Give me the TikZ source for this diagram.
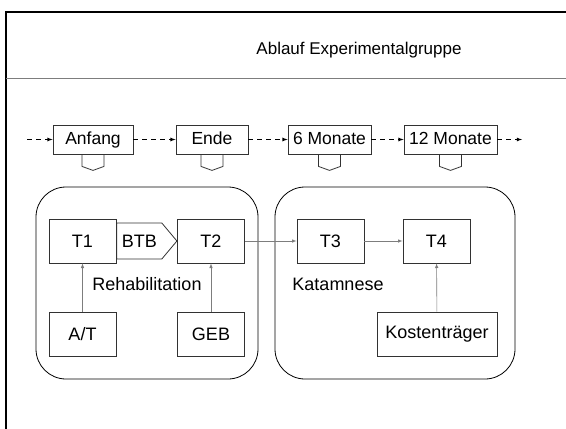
\documentclass[tikz,border=0pt]{standalone}
\usepackage{fontspec}
\setmainfont{Liberation Sans}
\usetikzlibrary{shapes,arrows,positioning,fit}
\usepackage{xcolor}
\definecolor{linegray}{RGB}{125,125,125}
\definecolor{boxgray}{RGB}{50,50,50}

\tikzset{
    zeitbox/.style={draw=boxgray, rectangle, line width=0.8pt, minimum height=29pt, inner xsep=1pt, text height=12.5pt, text depth=3.5pt, font=\fontsize{17.5}{17.5}\selectfont},
    stufe/.style={draw=boxgray, rectangle, line width=0.8pt, minimum width=67pt, minimum height=44pt, font=\fontsize{18}{18}\selectfont},
    phase/.style={draw=black, rectangle, rounded corners=30pt, line width=0.8pt},
    zeitpfeil/.style={dash pattern=on 5pt off 4pt, -latex, line width=0.8pt},
    pfeil/.style={draw=linegray, -latex, line width=0.6pt},
    label text/.style={font=\fontsize{18}{18}\selectfont}
}

\begin{document}
\begin{tikzpicture}[x=1pt,y=-1pt]
    \useasboundingbox (0,0) rectangle (566,429);
    % Rahmen und Titel
    \draw[line width=2pt] (6,429) -- (6,12) -- (566,12);
    \draw[linegray, line width=1pt] (6,78) -- (566,78);
    \node[font=\fontsize{17}{17}\selectfont] (titel) at (359,50) {Ablauf Experimentalgruppe};

    % Zeitachse
    \coordinate (start) at (27,139.5);
    \node[zeitbox, minimum width=80pt] (anfang) at (93,139.5) {Anfang};
    \node[zeitbox, minimum width=72pt] (ende) at (212,139.5) {Ende};
    \node[zeitbox, minimum width=83pt] (m6) at (329.5,139.5) {6 Monate};
    \node[zeitbox, minimum width=93pt] (m12) at (450.5,139.5) {12 Monate};
    \coordinate (weiter) at (522,139.5);
    \draw[zeitpfeil] (start) -- (anfang);
    \draw[zeitpfeil] (anfang) -- (ende);
    \draw[zeitpfeil] (ende) -- (m6);
    \draw[zeitpfeil] (m6) -- (m12);
    \draw[zeitpfeil] (m12) -- (weiter);
    \foreach \z in {anfang,ende,m6,m12}
        \draw[boxgray, line width=0.8pt] ([xshift=-11pt]\z.south) -- ++(0,12) -- ++(11,4) -- ++(11,-4) -- ++(0,-12);

    % Phasen
    \node[phase, minimum width=222pt, minimum height=192pt] (reha) at (147,283) {};
    \node[phase, minimum width=240pt, minimum height=192pt] (katamnese) at (395,283) {};

    % Rehabilitation
    \node[stufe] (t1) at (82.5,241) {T1};
    \node[stufe] (t2) at (211,241) {T2};
    \node[stufe] (at) at (82.5,334) {A/T};
    \node[stufe] (geb) at (211,334) {GEB};
    \node[draw=boxgray, line width=0.8pt, signal, signal to=east, signal pointer angle=100, minimum height=36pt, inner xsep=5pt, font=\fontsize{18}{18}\selectfont, right=0pt of t1] (btb) {BTB};
    \node[label text] (rehatext) at (147,284) {Rehabilitation};
    \draw[pfeil] (at) -- (t1);
    \draw[pfeil] (geb) -- (t2);

    % Katamnese
    \node[stufe] (t3) at (330.5,241) {T3};
    \node[stufe] (t4) at (436.5,241) {T4};
    \node[stufe, minimum width=120pt] (kosten) at (437,334) {Kostenträger};
    \node[label text] (katatext) at (338,284) {Katamnese};
    \draw[pfeil] (t2) -- (t3);
    \draw[pfeil] (t3) -- (t4);
    \draw[pfeil] (kosten) -- (t4);
\end{tikzpicture}
\end{document}
